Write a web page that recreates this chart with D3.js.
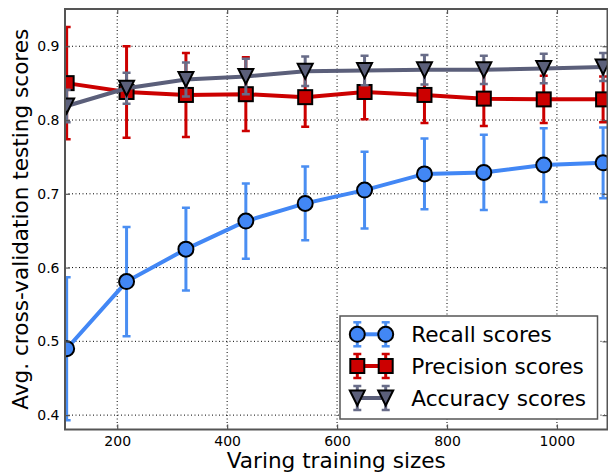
<!DOCTYPE html>
<html>
<head>
<meta charset="utf-8">
<script src="https://cdn.jsdelivr.net/npm/d3@7/dist/d3.min.js"></script>
<style>
  html, body { margin: 0; padding: 0; background: #fff; }
  svg { display: block; font-family: "DejaVu Sans", sans-serif; }
</style>
</head>
<body>
<svg id="chart" width="608" height="474"></svg>
<script>
// ---- data ----
const sizes = [108, 217, 325, 434, 542, 650, 759, 867, 976, 1084];
const recall = [0.490, 0.581, 0.625, 0.663, 0.687, 0.705, 0.727, 0.729, 0.739, 0.742];
const recallStd = [0.097, 0.074, 0.056, 0.051, 0.050, 0.052, 0.048, 0.051, 0.050, 0.048];
const precision = [0.850, 0.838, 0.834, 0.835, 0.831, 0.838, 0.834, 0.829, 0.828, 0.828];
const precisionStd = [0.076, 0.062, 0.057, 0.050, 0.040, 0.037, 0.038, 0.037, 0.032, 0.031];
const accuracy = [0.819, 0.843, 0.855, 0.859, 0.866, 0.867, 0.868, 0.868, 0.870, 0.872];
const accuracyStd = [0.022, 0.021, 0.023, 0.024, 0.020, 0.020, 0.020, 0.019, 0.020, 0.019];
const seriesNames = ["Recall scores", "Precision scores", "Accuracy scores"];
const xTicks = [200, 400, 600, 800, 1000];
const yTicks = [0.4, 0.5, 0.6, 0.7, 0.8, 0.9];
const xLabel = "Varing training sizes";
const yLabel = "Avg. cross-validation testing scores";

// ---- layout ----
const L = 65, R = 607.5, T = 9, B = 429.5;
const svg = d3.select("#chart");
const x = d3.scaleLinear().domain([105, 1092]).range([L, R]);
const y = d3.scaleLinear().domain([0.3805, 0.9505]).range([B, T]);
const spine = "#555";

const series = [
  { name: seriesNames[0], vals: recall, std: recallStd, color: "#4287f5", ecolor: "#4a8ef2", shape: "circle" },
  { name: seriesNames[1], vals: precision, std: precisionStd, color: "#cc0000", ecolor: "#cc0000", shape: "square" },
  { name: seriesNames[2], vals: accuracy, std: accuracyStd, color: "#5b5f7a", ecolor: "#686c88", shape: "tri" }
];

// grid
const grid = svg.append("g");
grid.selectAll("line.gx").data(xTicks).enter().append("line")
  .attr("x1", d => x(d)).attr("x2", d => x(d)).attr("y1", T).attr("y2", B)
  .attr("stroke", "#000").attr("stroke-width", 1).attr("stroke-dasharray", "1,2.5");
grid.selectAll("line.gy").data(yTicks).enter().append("line")
  .attr("y1", d => y(d)).attr("y2", d => y(d)).attr("x1", L).attr("x2", R)
  .attr("stroke", "#000").attr("stroke-width", 1).attr("stroke-dasharray", "1,2.5");

const plot = svg.append("g");
plot.append("clipPath").attr("id", "clip").append("rect")
  .attr("x", L).attr("y", T).attr("width", R - L).attr("height", B - T);
const content = plot.append("g").attr("clip-path", "url(#clip)");

function drawMarker(g, shape, cx, cy, fill) {
  if (shape === "circle") {
    g.append("circle").attr("cx", cx).attr("cy", cy).attr("r", 7.5)
      .attr("fill", fill).attr("stroke", "#000").attr("stroke-width", 2);
  } else if (shape === "square") {
    g.append("rect").attr("x", cx - 7).attr("y", cy - 7).attr("width", 14).attr("height", 14)
      .attr("fill", fill).attr("stroke", "#000").attr("stroke-width", 2);
  } else {
    const s = 7.5;
    g.append("path").attr("d", `M${cx - s},${cy - s}L${cx + s},${cy - s}L${cx},${cy + s}Z`)
      .attr("fill", fill).attr("stroke", "#000").attr("stroke-width", 2).attr("stroke-linejoin", "miter");
  }
}

function drawErr(g, cx, y0, y1, color) {
  g.append("line").attr("x1", cx).attr("x2", cx).attr("y1", y0).attr("y2", y1)
    .attr("stroke", color).attr("stroke-width", 3);
  [y0, y1].forEach(yy => g.append("line").attr("x1", cx - 4).attr("x2", cx + 4)
    .attr("y1", yy).attr("y2", yy).attr("stroke", color).attr("stroke-width", 2.5));
}

const lineGen = d3.line().x(d => x(d[0])).y(d => y(d[1]));

series.forEach(s => {
  const g = content.append("g");
  sizes.forEach((sz, i) => drawErr(g, x(sz), y(s.vals[i] + s.std[i]), y(s.vals[i] - s.std[i]), s.ecolor));
  g.append("path").datum(sizes.map((sz, i) => [sz, s.vals[i]]))
    .attr("d", lineGen).attr("fill", "none").attr("stroke", s.color).attr("stroke-width", 4);
  sizes.forEach((sz, i) => drawMarker(g, s.shape, x(sz), y(s.vals[i]), s.color));
});

// axes (inward ticks)
const xAxis = svg.append("g").attr("transform", `translate(0,${B})`)
  .call(d3.axisBottom(x).tickValues(xTicks).tickSize(-5).tickPadding(6.5).tickFormat(d3.format("d")));
const xTop = svg.append("g").attr("transform", `translate(0,${T})`)
  .call(d3.axisTop(x).tickValues(xTicks).tickSize(-5).tickFormat(""));
const yAxis = svg.append("g").attr("transform", `translate(${L},0)`)
  .call(d3.axisLeft(y).tickValues(yTicks).tickSize(-5).tickPadding(5.5).tickFormat(d3.format(".1f")));
const yRight = svg.append("g").attr("transform", `translate(${R},0)`)
  .call(d3.axisRight(y).tickValues(yTicks).tickSize(-5).tickFormat(""));
[xAxis, xTop, yAxis, yRight].forEach(a => {
  a.select(".domain").remove();
  a.selectAll(".tick line").attr("stroke", spine).attr("stroke-width", 1.2);
  a.selectAll("text").attr("font-size", 14).attr("fill", "#000")
    .attr("font-family", "DejaVu Sans, sans-serif");
});

// spines
svg.append("rect").attr("x", L).attr("y", T).attr("width", R - L).attr("height", B - T)
  .attr("fill", "none").attr("stroke", spine).attr("stroke-width", 2);

// labels
svg.append("text").attr("x", (L + R) / 2).attr("y", 468).attr("text-anchor", "middle")
  .attr("font-size", 21.6).attr("fill", "#000").text(xLabel);
svg.append("text").attr("transform", `translate(28,${(T + B) / 2}) rotate(-90)`)
  .attr("text-anchor", "middle").attr("font-size", 21.6).attr("fill", "#000").text(yLabel);

// legend
const lg = svg.append("g");
lg.append("rect").attr("x", 340).attr("y", 316).attr("width", 257.5).attr("height", 103)
  .attr("fill", "#fff").attr("stroke", spine).attr("stroke-width", 1.5);
const rowY = [334.3, 366, 398];
series.forEach((s, i) => {
  const g = lg.append("g");
  const yy = rowY[i], xa = 357.3, xb = 385.7;
  [xa, xb].forEach(xx => drawErr(g, xx, yy - 12, yy + 12, s.ecolor));
  g.append("line").attr("x1", xa).attr("x2", xb).attr("y1", yy).attr("y2", yy)
    .attr("stroke", s.color).attr("stroke-width", 4);
  [xa, xb].forEach(xx => drawMarker(g, s.shape, xx, yy, s.color));
  g.append("text").attr("x", 411.3).attr("y", yy + 7.5).attr("font-size", 21.6)
    .attr("fill", "#000").text(s.name);
});
</script>
</body>
</html>
